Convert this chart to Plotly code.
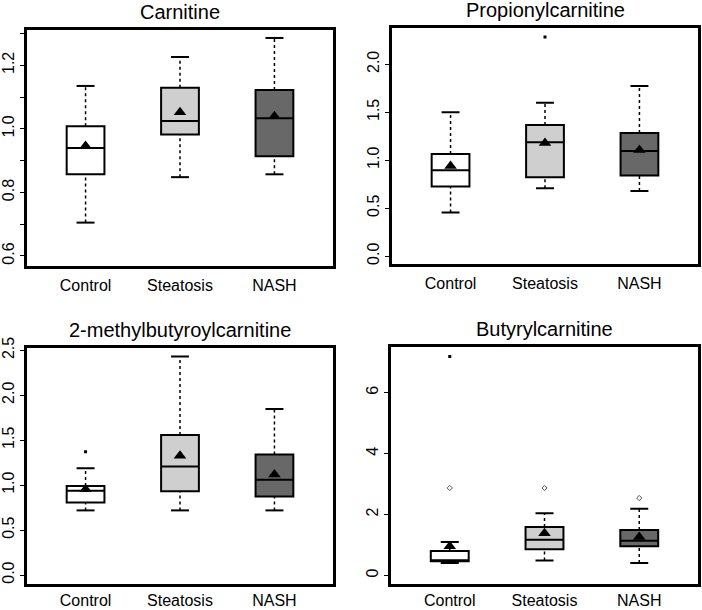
import plotly.graph_objects as go

groups = ["Control", "Steatosis", "NASH"]
fills = ["#ffffff", "#cfcfcf", "#686868"]

titles = ["Carnitine", "Propionylcarnitine", "2-methylbutyroylcarnitine", "Butyrylcarnitine"]

# per panel, per group: lower whisker, Q1, median, Q3, upper whisker, mean
carn_low = [0.705, 0.848, 0.857]
carn_q1 = [0.857, 0.982, 0.914]
carn_med = [0.940, 1.025, 1.033]
carn_q3 = [1.008, 1.129, 1.122]
carn_up = [1.135, 1.226, 1.286]
carn_mean = [0.946, 1.052, 1.040]

prop_low = [0.454, 0.708, 0.680]
prop_q1 = [0.725, 0.823, 0.840]
prop_med = [0.896, 1.188, 1.097]
prop_q3 = [1.066, 1.368, 1.284]
prop_up = [1.500, 1.600, 1.774]
prop_mean = [0.940, 1.180, 1.107]

mbut_low = [0.719, 0.719, 0.719]
mbut_q1 = [0.807, 0.933, 0.874]
mbut_med = [0.937, 1.207, 1.059]
mbut_q3 = [0.989, 1.559, 1.341]
mbut_up = [1.189, 2.430, 1.848]
mbut_mean = [0.955, 1.326, 1.119]

buty_low = [0.41, 0.49, 0.41]
buty_q1 = [0.46, 0.855, 0.954]
buty_med = [0.47, 1.17, 1.14]
buty_q3 = [0.80, 1.59, 1.49]
buty_up = [1.10, 2.04, 2.19]
buty_mean = [0.96, 1.38, 1.26]

# outliers: (group index, value)
prop_out_filled = [(1, 2.284)]
mbut_out_filled = [(0, 1.37)]
buty_out_filled = [(0, 7.19)]
buty_out_open = [(0, 2.87), (1, 2.87), (2, 2.54)]

# y-axis ticks
carn_ticks = [0.6, 0.7, 0.8, 0.9, 1.0, 1.1, 1.2, 1.3]
carn_ticktext = ["0.6", "", "0.8", "", "1.0", "", "1.2", ""]
prop_ticks = [0.0, 0.5, 1.0, 1.5, 2.0]
prop_ticktext = ["0.0", "0.5", "1.0", "1.5", "2.0"]
mbut_ticks = [0.0, 0.5, 1.0, 1.5, 2.0, 2.5]
mbut_ticktext = ["0.0", "0.5", "1.0", "1.5", "2.0", "2.5"]
buty_ticks = [0, 2, 4, 6]
buty_ticktext = ["0", "2", "4", "6"]

panels = [
    dict(low=carn_low, q1=carn_q1, med=carn_med, q3=carn_q3, up=carn_up, mean=carn_mean,
         filled=[], opened=[], ticks=carn_ticks, ticktext=carn_ticktext, yr=[0.5685, 1.311],
         xd=[27 / 702, 333 / 702], yd=[1 - 266 / 610, 1 - 30 / 610], so=3),
    dict(low=prop_low, q1=prop_q1, med=prop_med, q3=prop_q3, up=prop_up, mean=prop_mean,
         filled=prop_out_filled, opened=[], ticks=prop_ticks, ticktext=prop_ticktext, yr=[-0.085, 2.375],
         xd=[392 / 702, 698 / 702], yd=[1 - 264.3 / 610, 1 - 28.3 / 610], so=3),
    dict(low=mbut_low, q1=mbut_q1, med=mbut_med, q3=mbut_q3, up=mbut_up, mean=mbut_mean,
         filled=mbut_out_filled, opened=[], ticks=mbut_ticks, ticktext=mbut_ticktext, yr=[-0.1, 2.529],
         xd=[27 / 702, 333 / 702], yd=[1 - 584 / 610, 1 - 347.7 / 610], so=0),
    dict(low=buty_low, q1=buty_q1, med=buty_med, q3=buty_q3, up=buty_up, mean=buty_mean,
         filled=buty_out_filled, opened=buty_out_open, ticks=buty_ticks, ticktext=buty_ticktext, yr=[-0.27, 7.49],
         xd=[391 / 702, 698 / 702], yd=[1 - 583.6 / 610, 1 - 347.3 / 610], so=0),
]

BOXW = 0.4
CAPH = 0.095
FONT = "Liberation Sans, Arial, Helvetica, sans-serif"

fig = go.Figure()
layout = dict(
    width=702, height=610, margin=dict(l=0, r=0, t=0, b=0, autoexpand=False),
    paper_bgcolor="white", plot_bgcolor="white", showlegend=False,
    font=dict(family=FONT, color="black"),
)
annotations = []

for p_i, p in enumerate(panels):
    sfx = "" if p_i == 0 else str(p_i + 1)
    xa, ya = "x" + sfx, "y" + sfx
    xpos = [1, 2, 3]
    for g in range(3):
        x = xpos[g]
        # whiskers (dotted)
        fig.add_trace(go.Scatter(
            x=[x, x, None, x, x], y=[p["low"][g], p["q1"][g], None, p["q3"][g], p["up"][g]],
            mode="lines", line=dict(color="black", width=1.5, dash="dot"),
            xaxis=xa, yaxis=ya, hoverinfo="skip"))
        # caps
        fig.add_trace(go.Scatter(
            x=[x - CAPH, x + CAPH, None, x - CAPH, x + CAPH],
            y=[p["low"][g], p["low"][g], None, p["up"][g], p["up"][g]],
            mode="lines", line=dict(color="black", width=2),
            xaxis=xa, yaxis=ya, hoverinfo="skip"))
        # box
        fig.add_trace(go.Box(
            x=[x], q1=[p["q1"][g]], median=[p["med"][g]], q3=[p["q3"][g]],
            lowerfence=[p["q1"][g]], upperfence=[p["q3"][g]],
            width=BOXW, whiskerwidth=0, boxpoints=False,
            fillcolor=fills[g], line=dict(color="black", width=2),
            xaxis=xa, yaxis=ya, name=groups[g]))
    # means
    fig.add_trace(go.Scatter(
        x=xpos, y=p["mean"], mode="markers",
        marker=dict(symbol="triangle-up", size=11, color="black"),
        xaxis=xa, yaxis=ya, hoverinfo="skip"))
    if p["filled"]:
        fig.add_trace(go.Scatter(
            x=[xpos[g] for g, v in p["filled"]], y=[v for g, v in p["filled"]], mode="markers",
            marker=dict(symbol="square", size=3, color="black"),
            xaxis=xa, yaxis=ya, hoverinfo="skip"))
    if p["opened"]:
        fig.add_trace(go.Scatter(
            x=[xpos[g] for g, v in p["opened"]], y=[v for g, v in p["opened"]], mode="markers",
            marker=dict(symbol="diamond-open", size=4, color="#555555", line=dict(width=1)),
            xaxis=xa, yaxis=ya, hoverinfo="skip"))

    layout["xaxis" + sfx] = dict(
        domain=p["xd"], range=[0.38, 3.62], anchor=ya, automargin=False,
        tickvals=xpos, ticktext=groups, ticks="", showgrid=False, zeroline=False,
        showline=True, mirror=True, linecolor="black", linewidth=2.5, ticklabelstandoff=p["so"],
        tickfont=dict(size=16, family=FONT, color="black"))
    layout["yaxis" + sfx] = dict(
        domain=p["yd"], range=p["yr"], anchor=xa, automargin=False,
        tickvals=p["ticks"], ticktext=p["ticktext"], ticks="outside", ticklen=4, tickwidth=1,
        tickcolor="black", tickangle=-90, showgrid=False, zeroline=False,
        showline=True, mirror=True, linecolor="black", linewidth=2.5,
        tickfont=dict(size=16, family=FONT, color="black"))
    annotations.append(dict(
        text=titles[p_i], x=(p["xd"][0] + p["xd"][1]) / 2, xref="paper",
        y=p["yd"][1], yref="paper", yanchor="bottom", yshift=5,
        xanchor="center", showarrow=False, font=dict(size=20, family=FONT, color="black")))

layout["annotations"] = annotations
fig.update_layout(**layout)
fig.write_html("out.html", config={"displayModeBar": False},
               post_script="document.body.style.margin='0';")
